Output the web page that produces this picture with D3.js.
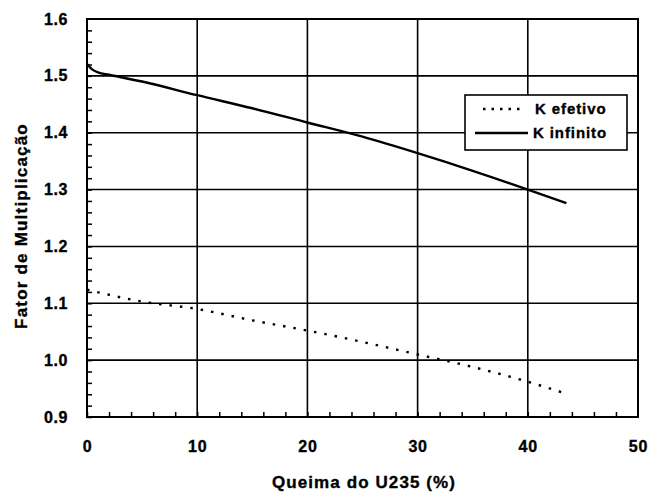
<!DOCTYPE html>
<html>
<head>
<meta charset="utf-8">
<script src="https://cdn.jsdelivr.net/npm/d3@7"></script>
<style>
  body { margin: 0; background: #fff; }
  text { font-family: "Liberation Sans", Arial, sans-serif; font-weight: bold; fill: #000; stroke: #000; stroke-width: 0.35px; }
</style>
</head>
<body>
<div id="vis"></div>
<script>
// burnup (%) and multiplication factor
var burnInf = [0, 0.5, 1, 2, 5, 10, 15, 20, 25, 30, 35, 40, 43.5];
var kInfinito = [1.521, 1.511, 1.506, 1.502, 1.490, 1.466, 1.443, 1.418, 1.393, 1.364, 1.333, 1.300, 1.276];

var burnEf = [0, 5, 10, 15, 20, 25, 30, 35, 40, 43.5];
var kEfetivo = [1.124, 1.103, 1.090, 1.070, 1.052, 1.032, 1.010, 0.988, 0.962, 0.941];

var xTicks = [0, 10, 20, 30, 40, 50];
var yTicks = [0.9, 1.0, 1.1, 1.2, 1.3, 1.4, 1.5, 1.6];

var legendLabels = ["K efetivo", "K infinito"];

var width = 661,
    height = 497,
    margin = { top: 19, right: 23, bottom: 80, left: 87 },
    drawWidth = width - margin.left - margin.right,
    drawHeight = height - margin.top - margin.bottom;

var svg = d3.select("#vis").append("svg")
    .attr("width", width)
    .attr("height", height);

var g = svg.append("g")
    .attr("transform", "translate(" + margin.left + "," + margin.top + ")");

var x = d3.scaleLinear().domain([0, 50]).range([0, drawWidth]);
var y = d3.scaleLinear().domain([0.9, 1.6]).range([drawHeight, 0]);

// minor ticks, pointing inwards
g.append("g")
    .attr("transform", "translate(0," + drawHeight + ")")
    .call(d3.axisTop(x).tickValues(d3.range(0, 50, 2)).tickSize(5).tickFormat(""))
    .call(function(s) { s.select(".domain").remove(); })
    .selectAll("line").attr("stroke-width", 1.5);

g.append("g")
    .call(d3.axisRight(y).tickValues(d3.range(0.9, 1.6, 0.02)).tickSize(5).tickFormat(""))
    .call(function(s) { s.select(".domain").remove(); })
    .selectAll("line").attr("stroke-width", 1.5);

// grid
g.append("g")
    .selectAll("line.gx")
    .data(xTicks)
    .enter().append("line")
    .attr("x1", function(d) { return x(d); })
    .attr("x2", function(d) { return x(d); })
    .attr("y1", 0)
    .attr("y2", drawHeight)
    .attr("stroke", "#000")
    .attr("stroke-width", 1.6);

g.append("g")
    .selectAll("line.gy")
    .data(yTicks)
    .enter().append("line")
    .attr("x1", 0)
    .attr("x2", drawWidth)
    .attr("y1", function(d) { return y(d); })
    .attr("y2", function(d) { return y(d); })
    .attr("stroke", "#000")
    .attr("stroke-width", 1.6);

// frame
g.append("rect")
    .attr("width", drawWidth)
    .attr("height", drawHeight)
    .attr("fill", "none")
    .attr("stroke", "#000")
    .attr("stroke-width", 2);

// tick labels
var xAxis = d3.axisBottom(x).tickValues(xTicks).tickSize(0).tickPadding(24).tickFormat(d3.format("d"));
g.append("g")
    .attr("transform", "translate(0," + drawHeight + ")")
    .call(xAxis)
    .call(function(s) { s.select(".domain").remove(); })
    .selectAll("text")
    .style("font-size", "16px")
    .style("letter-spacing", "0.8px");

var yAxis = d3.axisLeft(y).tickValues(yTicks).tickSize(0).tickPadding(19).tickFormat(d3.format(".1f"));
g.append("g")
    .call(yAxis)
    .call(function(s) { s.select(".domain").remove(); })
    .selectAll("text")
    .style("font-size", "16px")
    .style("letter-spacing", "0.6px");

// series
var line = d3.line()
    .x(function(d) { return x(d[0]); })
    .y(function(d) { return y(d[1]); })
    .curve(d3.curveMonotoneX);

g.append("path")
    .datum(d3.zip(burnInf, kInfinito))
    .attr("fill", "none")
    .attr("stroke", "#000")
    .attr("stroke-width", 2.4)
    .attr("d", line);

g.append("path")
    .datum(d3.zip(burnEf, kEfetivo))
    .attr("fill", "none")
    .attr("stroke", "#000")
    .attr("stroke-width", 2.4)
    .attr("stroke-dasharray", "2.5,8")
    .attr("d", line);

// legend
var leg = svg.append("g").attr("transform", "translate(465,95)");
leg.append("rect")
    .attr("width", 162)
    .attr("height", 55)
    .attr("fill", "#fff")
    .attr("stroke", "#000")
    .attr("stroke-width", 1.6);

leg.append("line")
    .attr("x1", 18).attr("x2", 56)
    .attr("y1", 14).attr("y2", 14)
    .attr("stroke", "#000")
    .attr("stroke-width", 2.4)
    .attr("stroke-dasharray", "2.5,6");
leg.append("line")
    .attr("x1", 10).attr("x2", 63)
    .attr("y1", 38).attr("y2", 38)
    .attr("stroke", "#000")
    .attr("stroke-width", 2.4);

leg.selectAll("text")
    .data(legendLabels)
    .enter().append("text")
    .attr("x", function(d, i) { return i == 0 ? 70 : 68; })
    .attr("y", function(d, i) { return 14 + i * 24; })
    .attr("dy", "0.35em")
    .style("font-size", "15px")
    .style("letter-spacing", "0.9px")
    .text(function(d) { return d; });

// axis titles
svg.append("text")
    .attr("x", 364)
    .attr("y", 482)
    .attr("dy", "0.35em")
    .attr("text-anchor", "middle")
    .style("font-size", "17px")
    .style("letter-spacing", "1.1px")
    .text("Queima do U235 (%)");

svg.append("text")
    .attr("transform", "translate(21,226) rotate(-90)")
    .attr("dy", "0.35em")
    .attr("text-anchor", "middle")
    .style("font-size", "17px")
    .style("letter-spacing", "1.2px")
    .text("Fator de Multiplicação");
</script>
</body>
</html>
